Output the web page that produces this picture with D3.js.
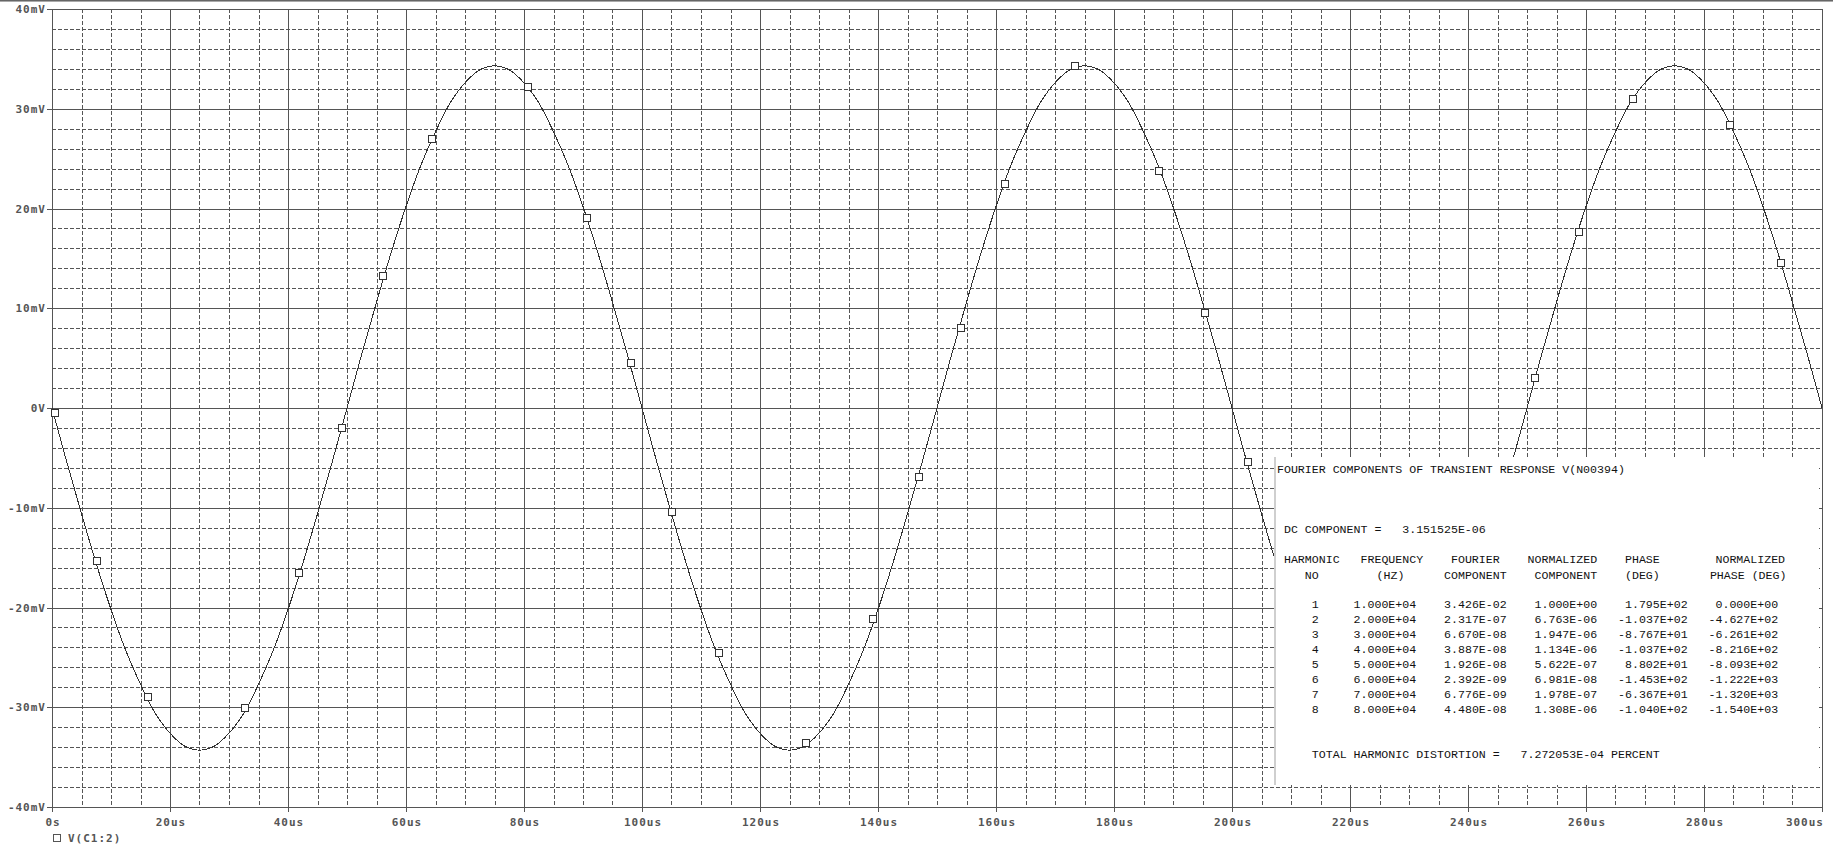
<!DOCTYPE html>
<html><head><meta charset="utf-8">
<script src="https://cdn.jsdelivr.net/npm/d3@7"></script>
<style>
html,body{margin:0;padding:0;background:#fff;}
svg{display:block;}
.ax{font-family:"DejaVu Sans Mono",monospace;font-weight:bold;font-size:11px;fill:#555;letter-spacing:1px;}
.tb{font-family:"Liberation Mono","Courier New",monospace;font-size:11.6px;fill:#111;white-space:pre;}
</style></head><body>
<svg id="c" width="1833" height="846"></svg>
<script>
// ---------- data ----------
const yTicks = [-40,-30,-20,-10,0,10,20,30,40];
const yLabels = ["-40mV","-30mV","-20mV","-10mV","0V","10mV","20mV","30mV","40mV"];
const xTicks = [0,20,40,60,80,100,120,140,160,180,200,220,240,260,280,300];
const xLabels = ["0s","20us","40us","60us","80us","100us","120us","140us","160us","180us","200us","220us","240us","260us","280us","300us"];
const sampleStep = 2.5; // us
const voltage = [
  0,-5.4,-10.6,-15.6,-20.2,-24.3,-27.7,-30.6,-32.6,-33.9,-34.3,-33.9,-32.6,-30.6,-27.7,-24.3,-20.2,-15.6,-10.6,-5.4,
  0,5.4,10.6,15.6,20.2,24.3,27.7,30.6,32.6,33.9,34.3,33.9,32.6,30.6,27.7,24.3,20.2,15.6,10.6,5.4,
  0,-5.4,-10.6,-15.6,-20.2,-24.3,-27.7,-30.6,-32.6,-33.9,-34.3,-33.9,-32.6,-30.6,-27.7,-24.3,-20.2,-15.6,-10.6,-5.4,
  0,5.4,10.6,15.6,20.2,24.3,27.7,30.6,32.6,33.9,34.3,33.9,32.6,30.6,27.7,24.3,20.2,15.6,10.6,5.4,
  0,-5.4,-10.6,-15.6,-20.2,-24.3,-27.7,-30.6,-32.6,-33.9,-34.3,-33.9,-32.6,-30.6,-27.7,-24.3,-20.2,-15.6,-10.6,-5.4,
  0,5.4,10.6,15.6,20.2,24.3,27.7,30.6,32.6,33.9,34.3,33.9,32.6,30.6,27.7,24.3,20.2,15.6,10.6,5.4,
  0
];
const markerTime = [0.45,7.6,16.3,32.7,41.9,49.2,56.1,64.4,80.6,90.6,98.1,105.1,113.0,127.8,139.2,146.9,154.0,161.5,173.4,187.7,195.4,202.7,251.3,258.8,267.9,284.4,293.1];
const markerVoltage = [-0.55,-15.3,-29.0,-30.1,-16.5,-2.0,13.2,27.0,32.2,19.0,4.5,-10.4,-24.6,-33.6,-21.2,-6.9,8.0,22.5,34.3,23.8,9.5,-5.4,3.0,17.6,31.0,28.4,14.5];
const traceName = "V(C1:2)";

const fourierTitle = "FOURIER COMPONENTS OF TRANSIENT RESPONSE V(N00394)";
const dcLine = "DC COMPONENT =   3.151525E-06";
const header1 = ["HARMONIC","FREQUENCY","FOURIER","NORMALIZED","PHASE","NORMALIZED"];
const header2 = ["NO","(HZ)","COMPONENT","COMPONENT","(DEG)","PHASE (DEG)"];
const harmonicNo = ["1","2","3","4","5","6","7","8"];
const frequencyHz = ["1.000E+04","2.000E+04","3.000E+04","4.000E+04","5.000E+04","6.000E+04","7.000E+04","8.000E+04"];
const fourierComp = ["3.426E-02","2.317E-07","6.670E-08","3.887E-08","1.926E-08","2.392E-09","6.776E-09","4.480E-08"];
const normComp = ["1.000E+00","6.763E-06","1.947E-06","1.134E-06","5.622E-07","6.981E-08","1.978E-07","1.308E-06"];
const phaseDeg = ["1.795E+02","-1.037E+02","-8.767E+01","-1.037E+02","8.802E+01","-1.453E+02","-6.367E+01","-1.040E+02"];
const normPhaseDeg = ["0.000E+00","-4.627E+02","-6.261E+02","-8.216E+02","-8.093E+02","-1.222E+03","-1.320E+03","-1.540E+03"];
const thdLine = "TOTAL HARMONIC DISTORTION =   7.272053E-04 PERCENT";

// ---------- drawing ----------
const svg = d3.select("#c");
const x = d3.scaleLinear().domain([0,300]).range([52,1822]);
const y = d3.scaleLinear().domain([-40,40]).range([807,9]);
const px = v => Math.round(v) + 0.5;
const GRID = "#555";

// top window border
svg.append("line").attr("x1",0).attr("x2",1833).attr("y1",0.5).attr("y2",0.5).attr("stroke","#666");
svg.append("line").attr("x1",0).attr("x2",1833).attr("y1",1.5).attr("y2",1.5).attr("stroke","#aaa");

const g = svg.append("g").attr("shape-rendering","crispEdges");
// minor grid
const minorX = d3.range(0,300.01,5).filter(t => t % 20 !== 0);
const minorY = d3.range(-40,40.01,2).filter(v => v % 10 !== 0);
g.selectAll(".mx").data(minorX).join("line")
  .attr("x1",d=>px(x(d))).attr("x2",d=>px(x(d))).attr("y1",y(40)).attr("y2",y(-40))
  .attr("stroke",GRID).attr("stroke-dasharray","4,2");
g.selectAll(".my").data(minorY).join("line")
  .attr("x1",x(0)).attr("x2",x(300)).attr("y1",d=>px(y(d))).attr("y2",d=>px(y(d)))
  .attr("stroke",GRID).attr("stroke-dasharray","4,2");
// major grid + ticks
g.selectAll(".Mx").data(xTicks).join("line")
  .attr("x1",d=>px(x(d))).attr("x2",d=>px(x(d))).attr("y1",y(40)).attr("y2",y(-40)+5)
  .attr("stroke",GRID);
g.selectAll(".My").data(yTicks).join("line")
  .attr("x1",x(0)-5).attr("x2",x(300)).attr("y1",d=>px(y(d))).attr("y2",d=>px(y(d)))
  .attr("stroke",GRID);

// curve
const times = d3.range(voltage.length).map(i => i*sampleStep);
const line = d3.line().x((d,i)=>x(times[i])).y(d=>y(d)).curve(d3.curveCatmullRom);
svg.append("path").datum(voltage).attr("d",line).attr("fill","none")
  .attr("stroke","#333").attr("stroke-width",1).attr("shape-rendering","crispEdges");

// markers
svg.selectAll(".mk").data(markerTime).join("rect")
  .attr("x",(d)=>Math.round(x(d))-3.5).attr("y",(d,i)=>Math.round(y(markerVoltage[i]))-3.5)
  .attr("width",7).attr("height",7).attr("fill","#fff").attr("stroke","#333")
  .attr("shape-rendering","crispEdges");

// axis labels
svg.selectAll(".yl").data(yTicks).join("text").attr("class","ax")
  .attr("x",46).attr("y",d=>y(d)+4).attr("text-anchor","end").text((d,i)=>yLabels[i]);
const lastX = xTicks.length - 1;
svg.selectAll(".xl").data(xTicks).join("text").attr("class","ax")
  .attr("x",(d,i)=> i === lastX ? x(d)+2 : x(d)+1).attr("y",826)
  .attr("text-anchor",(d,i)=> i === lastX ? "end" : "middle").text((d,i)=>xLabels[i]);

// legend
svg.append("rect").attr("x",53.5).attr("y",834.5).attr("width",7).attr("height",7)
  .attr("fill","#fff").attr("stroke","#555").attr("shape-rendering","crispEdges");
svg.append("text").attr("class","ax").attr("x",68).attr("y",842).text(traceName);

// Fourier table box
const bx0 = 1276, by0 = 457, bx1 = 1819, by1 = 785;
svg.append("rect").attr("x",bx0).attr("y",by0).attr("width",bx1-bx0).attr("height",by1-by0).attr("fill","#fff");
svg.append("rect").attr("x",bx0-2).attr("y",by0).attr("width",2).attr("height",by1-by0).attr("fill","#cfcfcf");

const cw = 6.96, x0 = 1277;
const cx = idx => x0 + idx*cw;
const tb = svg.append("g");
tb.append("text").attr("class","tb").attr("x",cx(0)).attr("y",473).text(fourierTitle);
tb.append("text").attr("class","tb").attr("x",cx(1)).attr("y",533).text(dcLine);
const h1Idx = [1,12,25,36,50,63];
const h2Idx = [4,14.3,24,37,50,62.2];
tb.selectAll(".h1").data(header1).join("text").attr("class","tb").attr("x",(d,i)=>cx(h1Idx[i])).attr("y",563).text(d=>d);
tb.selectAll(".h2").data(header2).join("text").attr("class","tb").attr("x",(d,i)=>cx(h2Idx[i])).attr("y",578.5).text(d=>d);
const cols = [harmonicNo,frequencyHz,fourierComp,normComp,phaseDeg,normPhaseDeg];
const colEnd = [6,20,33,46,59,72];
cols.forEach((col,ci) => {
  tb.selectAll(".c"+ci).data(col).join("text").attr("class","tb")
    .attr("x",cx(colEnd[ci])).attr("y",(d,i)=>607.5 + i*15.1)
    .attr("text-anchor","end").text(d=>d);
});
tb.append("text").attr("class","tb").attr("x",cx(5)).attr("y",758).text(thdLine);
</script>
</body></html>
